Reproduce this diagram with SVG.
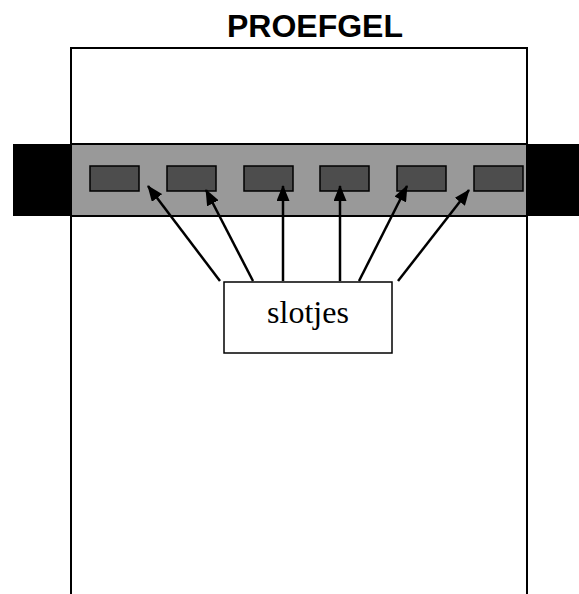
<svg xmlns="http://www.w3.org/2000/svg" width="579" height="594" viewBox="0 0 579 594">
  <style>
    .gel { fill: #ffffff; stroke: #000000; stroke-width: 2; }
    .clamp { fill: #000000; }
    .band { fill: #999999; stroke: #000000; stroke-width: 2; }
    .slot { fill: #4d4d4d; stroke: #000000; stroke-width: 1.5; }
    .label { fill: #ffffff; stroke: #000000; stroke-width: 1.5; }
    .conn { stroke: #000000; stroke-width: 2.5; fill: none; marker-end: url(#head); }
  </style>
  <defs>
    <!-- solid triangular arrowhead, tip sits at the end of the line -->
    <marker id="head" viewBox="0 0 16 13" refX="15" refY="6.5" markerWidth="16" markerHeight="13" markerUnits="userSpaceOnUse" orient="auto">
      <path d="M0,0 L16,6.5 L0,13 z" fill="#000000"/>
    </marker>
  </defs>

  <!-- gel outline, open at the bottom -->
  <g id="gel">
    <path class="gel" d="M71,594 L71,48 L527,48 L527,594"/>
  </g>

  <!-- title -->
  <g id="title">
    <text x="315" y="37" text-anchor="middle" font-family="'Liberation Sans', Arial, sans-serif" font-weight="bold" font-size="32">PROEFGEL</text>
  </g>

  <!-- clamps either side -->
  <g id="clamp-left"><rect class="clamp" x="13" y="144" width="58" height="72"/></g>
  <g id="clamp-right"><rect class="clamp" x="527" y="144" width="52" height="72"/></g>

  <!-- comb band -->
  <g id="band">
    <rect class="band" x="71" y="144" width="456" height="72"/>
  </g>

  <!-- slots -->
  <g id="slot-1"><rect class="slot" x="90" y="166" width="49" height="25"/></g>
  <g id="slot-2"><rect class="slot" x="167" y="166" width="49" height="25"/></g>
  <g id="slot-3"><rect class="slot" x="244" y="166" width="49" height="25"/></g>
  <g id="slot-4"><rect class="slot" x="320" y="166" width="49" height="25"/></g>
  <g id="slot-5"><rect class="slot" x="397" y="166" width="49" height="25"/></g>
  <g id="slot-6"><rect class="slot" x="474" y="166" width="49" height="25"/></g>

  <!-- label box -->
  <g id="label-slotjes">
    <rect class="label" x="224" y="282" width="168" height="71"/>
    <text x="308" y="323" text-anchor="middle" font-family="'Liberation Serif', 'Times New Roman', serif" font-size="32">slotjes</text>
  </g>

  <!-- connectors -->
  <g id="connectors">
    <line class="conn" x1="220" y1="281" x2="148" y2="186"/>
    <line class="conn" x1="253" y1="281" x2="206" y2="190"/>
    <line class="conn" x1="283" y1="281" x2="283" y2="186"/>
    <line class="conn" x1="340" y1="281" x2="340" y2="186"/>
    <line class="conn" x1="359" y1="281" x2="407" y2="186"/>
    <line class="conn" x1="398" y1="281" x2="469" y2="190"/>
  </g>
</svg>
